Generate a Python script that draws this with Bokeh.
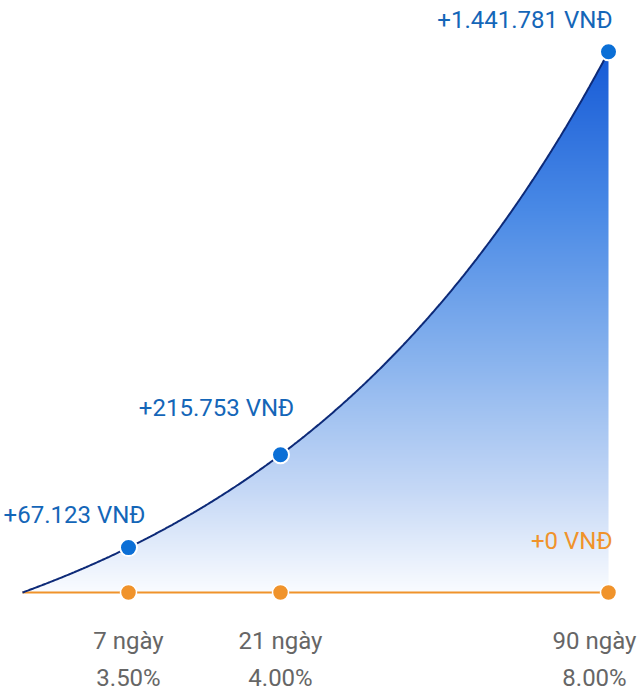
import numpy as np
from bokeh.plotting import figure
from bokeh.models import Range1d, ColumnDataSource
from bokeh.core.properties import value
from bokeh.embed import file_html
from bokeh.resources import INLINE

# ---- data ----
days = [7, 21, 90]
rates = [3.50, 4.00, 8.00]
interest = [67123, 215753, 1441781]
base_interest = [0, 0, 0]

# ---- layout (illustrative display scale) ----
slot_x = [106, 258, 586]          # horizontal slots for each term
A, B = 130.0, 0.0028              # illustrative growth curve shape

def curve(x):
    x = np.asarray(x, dtype=float)
    return A * (np.exp(B * np.clip(x, 0, None)) - 1.0)

def vnd(v):
    return "+" + f"{v:,}".replace(",", ".") + " VNĐ"

FONT = value("Roboto")
FS = "24px"
BLUE_TXT = "#1466b8"
DOT_BLUE = "#0b6fd6"
NAVY = "#0d2a78"
ORANGE = "#f0932b"
GRAY = "#666666"

W, H = 642, 696
p = figure(width=W, height=H, output_backend="svg", toolbar_location=None,
           x_range=Range1d(-22, W - 22), y_range=Range1d(592 - H, 592),
           min_border=0)
p.axis.visible = False
p.grid.visible = False
p.outline_line_color = None
p.background_fill_color = "white"

x_end = slot_x[-1]
y_top = float(curve(x_end))

# gradient image (row 0 = bottom)
stops_t = [0.0, 0.19, 0.428, 0.705, 1.0]          # from bottom
stops_c = [(250, 252, 255), (197, 216, 246), (138, 180, 238), (74, 138, 230), (22, 90, 214)]
rows = 542
t = np.linspace(0, 1, rows)
r = np.interp(t, stops_t, [c[0] for c in stops_c])
g = np.interp(t, stops_t, [c[1] for c in stops_c])
b = np.interp(t, stops_t, [c[2] for c in stops_c])
img = np.zeros((rows, 1), dtype=np.uint32)
view = img.view(dtype=np.uint8).reshape((rows, 1, 4))
view[:, 0, 0] = r.astype(np.uint8)
view[:, 0, 1] = g.astype(np.uint8)
view[:, 0, 2] = b.astype(np.uint8)
view[:, 0, 3] = 255
p.image_rgba(image=[img], x=0, y=0, dw=x_end, dh=y_top)

# mask above the curve
xm = np.linspace(-4, x_end, 420)
p.varea(x=xm, y1=curve(xm), y2=y_top + 4, fill_color="white")

xs = np.linspace(0, x_end, 400)
ys = curve(xs)
# baseline (orange) and growth curve (navy)
p.line(x=[0, x_end], y=[0, 0], line_color=ORANGE, line_width=2)
p.line(x=xs, y=ys, line_color=NAVY, line_width=2)

pt_y = curve(slot_x)
src = ColumnDataSource(dict(x=slot_x, y=pt_y))

p.scatter(x="x", y=0, source=src, size=16, fill_color=ORANGE, line_color="white", line_width=1.5)
p.scatter(x="x", y="y", source=src, size=17, fill_color=DOT_BLUE, line_color="white", line_width=2)

# value labels
offs = [(-54, -33, "center"), (-64, -47, "center"), (4, -32, "right")]
for i, (dx, dy, al) in enumerate(offs):
    p.text(x=[slot_x[i]], y=[pt_y[i]], text=[vnd(interest[i])], x_offset=dx, y_offset=dy,
           text_align=al, text_baseline="middle", text_font=FONT,
           text_font_size=FS, text_color=BLUE_TXT)

p.text(x=[x_end], y=[0], text=[vnd(base_interest[-1])], x_offset=4, y_offset=-52,
       text_align="right", text_baseline="middle", text_font=FONT,
       text_font_size=FS, text_color=ORANGE)

# bottom labels
lab_dx = [0, 0, -14]
for i in range(len(days)):
    p.text(x=[slot_x[i]], y=[0], text=[f"{days[i]} ngày"], x_offset=lab_dx[i], y_offset=48,
           text_align="center", text_baseline="middle", text_font=FONT,
           text_font_size=FS, text_color=GRAY)
    p.text(x=[slot_x[i]], y=[0], text=[f"{rates[i]:.2f}%"], x_offset=lab_dx[i], y_offset=85,
           text_align="center", text_baseline="middle", text_font=FONT,
           text_font_size=FS, text_color=GRAY)

open("out.html", "w").write(file_html(p, INLINE))
